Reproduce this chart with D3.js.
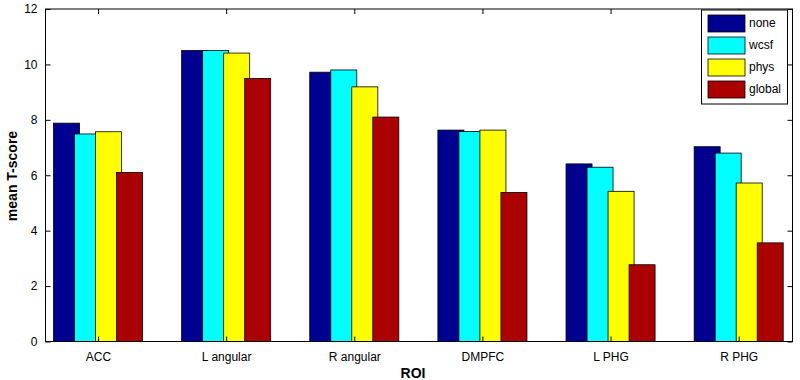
<!DOCTYPE html>
<html>
<head>
<meta charset="utf-8">
<script src="https://cdn.jsdelivr.net/npm/d3@7"></script>
<style>
  body { margin: 0; background: #fff; }
  text { font-family: "Liberation Sans", Arial, sans-serif; }
</style>
</head>
<body>
<div id="chart"></div>
<script>
// chart size
const width = 800
const height = 380

// data
const rois = ["ACC", "L angular", "R angular", "DMPFC", "L PHG", "R PHG"]
const seriesNames = ["none", "wcsf", "phys", "global"]
const seriesColors = ["#000090", "#00ffff", "#ffff00", "#aa0000"]
const none   = [7.88, 10.50, 9.72, 7.63, 6.41, 7.03]
const wcsf   = [7.49, 10.50, 9.80, 7.58, 6.29, 6.80]
const phys   = [7.57, 10.41, 9.19, 7.63, 5.42, 5.72]
const global = [6.10, 9.49, 8.10, 5.38, 2.77, 3.56]
const yTicks = [0, 2, 4, 6, 8, 10, 12]

const values = [none, wcsf, phys, global]

// plot box
const plotLeft = 45.5, plotRight = 792.5, plotTop = 9, plotBottom = 341.5

var svg = d3.select("#chart")
            .append("svg")
            .attr("width", width)
            .attr("height", height)

var x = d3.scaleLinear().domain([0.59, 6.42]).range([plotLeft, plotRight])
var y = d3.scaleLinear().domain([0, 12]).range([plotBottom, plotTop])

// bars: spacing 0.164 units, width 0.203 units (they overlap a little, later ones on top)
const step = 0.164, barW = 0.203

values.forEach(function(vals, j) {
  svg.append("g")
     .selectAll("rect")
     .data(vals)
     .enter()
     .append("rect")
     .attr("x", function(d, i) { return x(i + 1 + (j - 1.5) * step - barW / 2) })
     .attr("width", x(barW) - x(0))
     .attr("y", function(d) { return y(d) })
     .attr("height", function(d) { return y(0) - y(d) })
     .attr("fill", seriesColors[j])
     .attr("stroke", "#000")
     .attr("stroke-width", 0.8)
})

// box around the plot
svg.append("rect")
   .attr("x", plotLeft).attr("y", plotTop)
   .attr("width", plotRight - plotLeft).attr("height", plotBottom - plotTop)
   .attr("fill", "none").attr("stroke", "#000").attr("stroke-width", 1)

// axes with inward ticks
var xAxis = d3.axisBottom(x).tickValues(d3.range(1, 7)).tickSize(-5).tickPadding(11)
              .tickFormat(function(d) { return rois[d - 1] })
var gx = svg.append("g").attr("transform", "translate(0," + plotBottom + ")").call(xAxis)
var gxt = svg.append("g").attr("transform", "translate(0," + plotTop + ")")
             .call(d3.axisTop(x).tickValues(d3.range(1, 7)).tickSize(-5).tickFormat(""))

var yAxis = d3.axisLeft(y).tickValues(yTicks).tickSize(-5).tickPadding(8)
var gy = svg.append("g").attr("transform", "translate(" + plotLeft + ",0)").call(yAxis)
var gyr = svg.append("g").attr("transform", "translate(" + plotRight + ",0)")
             .call(d3.axisRight(y).tickValues(yTicks).tickSize(-5).tickFormat(""))

;[gx, gxt, gy, gyr].forEach(function(g) {
  g.select(".domain").remove()
  g.selectAll("line").attr("stroke", "#000")
  g.selectAll("text").attr("font-size", 12).attr("fill", "#000")
    .style("font-family", "Liberation Sans, Arial, sans-serif")
})

// axis titles
svg.append("text")
   .attr("x", 413).attr("y", 378)
   .attr("text-anchor", "middle")
   .attr("font-size", 14).attr("font-weight", "bold")
   .text("ROI")

svg.append("text")
   .attr("transform", "translate(17,176) rotate(-90)")
   .attr("text-anchor", "middle")
   .attr("font-size", 14).attr("font-weight", "bold")
   .text("mean T-score")

// legend
var legend = svg.append("g")
legend.append("rect")
      .attr("x", 701.5).attr("y", 10)
      .attr("width", 86).attr("height", 94)
      .attr("fill", "#fff").attr("stroke", "#000").attr("stroke-width", 1)

seriesNames.forEach(function(name, j) {
  legend.append("rect")
        .attr("x", 708).attr("y", 15 + j * 22)
        .attr("width", 37).attr("height", 17)
        .attr("fill", seriesColors[j])
        .attr("stroke", "#000").attr("stroke-width", 0.8)
  legend.append("text")
        .attr("x", 749).attr("y", 15 + j * 22 + 12)
        .attr("font-size", 12)
        .text(name)
})
</script>
</body>
</html>
